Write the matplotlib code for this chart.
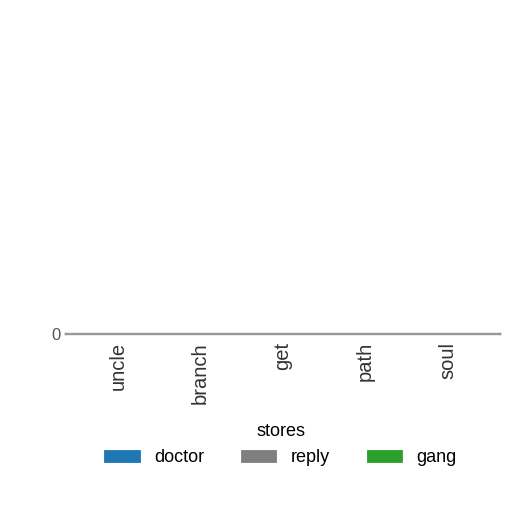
import numpy as np
import matplotlib.pyplot as plt

plt.rcParams["font.family"] = ["Liberation Sans", "DejaVu Sans"]

categories = ["uncle", "branch", "get", "path", "soul"]
series = ["doctor", "reply", "gang"]
doctor = [0, 0, 0, 0, 0]
reply = [0, 0, 0, 0, 0]
gang = [0, 0, 0, 0, 0]
colors = ["#1f77b4", "#7f7f7f", "#2ca02c"]

fig = plt.figure(figsize=(5.12, 5.12), dpi=100)
ax = fig.add_axes([0.127, 0.348, 0.85, 0.002])

x = np.arange(len(categories))
w = 0.8 / len(series)
for i, (name, vals) in enumerate(zip(series, [doctor, reply, gang])):
    ax.bar(x + (i - 1) * w, vals, w, color=colors[i], label=name, edgecolor=colors[i], linewidth=0.6)

ax.set_ylim(0, 1)
ax.set_yticks([0])
ax.set_xticks(x)
ax.set_xticklabels(categories, rotation=90, fontsize=14.5, color="#333333")
ax.tick_params(axis="y", labelsize=12, labelcolor="#555555", length=0, pad=3)
ax.tick_params(axis="x", length=0, pad=6)
for s in ax.spines.values():
    s.set_color("#999999")
    s.set_linewidth(1.0)

fig.legend(title="stores", loc="upper center", bbox_to_anchor=(0.548, 0.205),
           ncol=3, frameon=False, fontsize=13, title_fontsize=13,
           handlelength=1.95, handleheight=0.7, columnspacing=2.05, handletextpad=0.8)

fig.savefig("out.png", dpi=100)
